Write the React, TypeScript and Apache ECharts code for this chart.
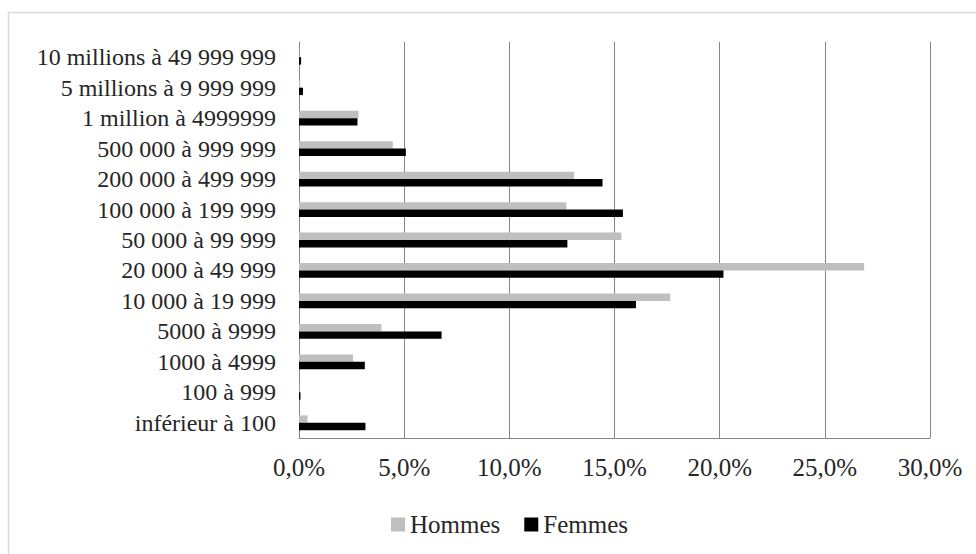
import React, { useEffect, useRef } from "react";
import * as echarts from "echarts";

const categories = [
  "inférieur à 100",
  "100 à 999",
  "1000 à 4999",
  "5000 à 9999",
  "10 000 à 19 999",
  "20 000 à 49 999",
  "50 000 à 99 999",
  "100 000 à 199 999",
  "200 000 à 499 999",
  "500 000 à 999 999",
  "1 million à 4999999",
  "5 millions à 9 999 999",
  "10 millions à 49 999 999",
];
const hommes = [0.41, 0.02, 2.57, 3.92, 17.65, 26.87, 15.33, 12.71, 13.08, 4.46, 2.83, 0.06, 0.02];
const femmes = [3.16, 0.07, 3.13, 6.78, 16.02, 20.18, 12.76, 15.4, 14.43, 5.08, 2.78, 0.19, 0.1];

const FONT = "Liberation Serif";

export default function App() {
  const ref = useRef<HTMLDivElement>(null);
  useEffect(() => {
    if (!ref.current) return;
    const chart = echarts.init(ref.current, null, { renderer: "svg" });
    chart.setOption({
      animation: false,
      backgroundColor: "#ffffff",
      textStyle: { fontFamily: FONT },
      graphic: [
        {
          type: "rect",
          shape: { x: 8.5, y: 12.5, width: 975, height: 560 },
          style: { fill: "none", stroke: "#d9d9d9", lineWidth: 1.5 },
          silent: true,
        },
      ],
      grid: { left: 299, right: 46, top: 42, bottom: 116, containLabel: false },
      legend: {
        data: ["Hommes", "Femmes"],
        left: 386,
        top: 507,
        itemWidth: 14,
        itemHeight: 14,
        itemGap: 24,
        icon: "rect",
        textStyle: { fontFamily: FONT, fontSize: 25, color: "#262626" },
      },
      xAxis: {
        type: "value",
        min: 0,
        max: 30,
        interval: 5,
        axisLine: { show: true, lineStyle: { color: "#868686", width: 1 } },
        axisTick: { show: false },
        splitLine: { show: true, lineStyle: { color: "#868686", width: 1 } },
        axisLabel: {
          fontFamily: FONT,
          fontSize: 25,
          color: "#262626",
          margin: 17,
          formatter: (v: number) => v.toFixed(1).replace(".", ",") + "%",
        },
      },
      yAxis: {
        type: "category",
        data: categories,
        axisLine: { show: true, lineStyle: { color: "#868686", width: 1 } },
        axisTick: { show: false },
        axisLabel: { interval: 0, fontFamily: FONT, fontSize: 24, color: "#262626", margin: 23 },
      },
      series: [
        {
          name: "Hommes",
          type: "bar",
          data: hommes,
          barWidth: 7.4,
          barGap: "0%",
          itemStyle: { color: "#bfbfbf" },
        },
        {
          name: "Femmes",
          type: "bar",
          data: femmes,
          barWidth: 7.4,
          barGap: "0%",
          itemStyle: { color: "#000000" },
        },
      ],
    });
    return () => chart.dispose();
  }, []);
  return (
    <div
      ref={ref}
      style={{ position: "absolute", left: 0, top: 0, width: 976, height: 554 }}
    />
  );
}
